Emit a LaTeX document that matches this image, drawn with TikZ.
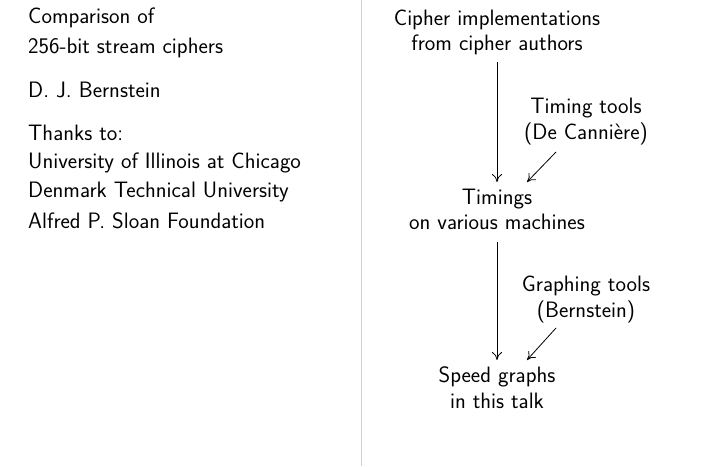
\documentclass[tikz,border=0pt]{standalone}
\usetikzlibrary{arrows.meta,calc}
\begin{document}
\begin{tikzpicture}[x=1pt,y=-1pt,
  txt/.style={inner sep=0pt,font=\sffamily\fontsize{22.3}{25.5}\selectfont},
  ltxt/.style={txt,anchor=west},
  ctxt/.style={txt,align=center},
  conn/.style={line width=0.8pt,-{To[length=8pt,width=10pt]}}]
\fill[white] (0,0) rectangle (720,466);
\useasboundingbox (0,0) rectangle (720,466);
\draw[black!18,line width=1pt] (361,0) -- (361,466);
% left column
\node[ltxt] (l1) at (28,18) {Comparison of};
\node[ltxt] (l2) at (28,48) {256-bit stream ciphers};
\node[ltxt] (l3) at (28,90) {D. J. Bernstein};
\node[ltxt] (l4) at (28,133) {Thanks to:};
\node[ltxt] (l5) at (28,163) {University of Illinois at Chicago};
\node[ltxt] (l6) at (28,192) {Denmark Technical University};
\node[ltxt] (l7) at (28,221) {Alfred P. Sloan Foundation};
% right column
\node[ctxt] (cipher) at (497,32.5) {Cipher implementations\\from cipher authors};
\node[ctxt] (tt) at (586,121.5) {Timing tools\\(De Cannière)};
\node[ctxt] (tim) at (497,209.5) {Timings\\on various machines};
\node[ctxt] (gt) at (586,299.5) {Graphing tools\\(Bernstein)};
\node[ctxt] (sg) at (497,387.5) {Speed graphs\\in this talk};
\draw[conn] ($(cipher.center)+(0,29.5)$) -- ($(tim.center)+(0,-27.5)$);
\draw[conn] ($(tt.center)+(-30,30.5)$) -- ($(tim.center)+(30,-27.5)$);
\draw[conn] ($(tim.center)+(0,32.5)$) -- ($(sg.center)+(0,-27.5)$);
\draw[conn] ($(gt.center)+(-30,28.5)$) -- ($(sg.center)+(30,-27.5)$);
\end{tikzpicture}
\end{document}
